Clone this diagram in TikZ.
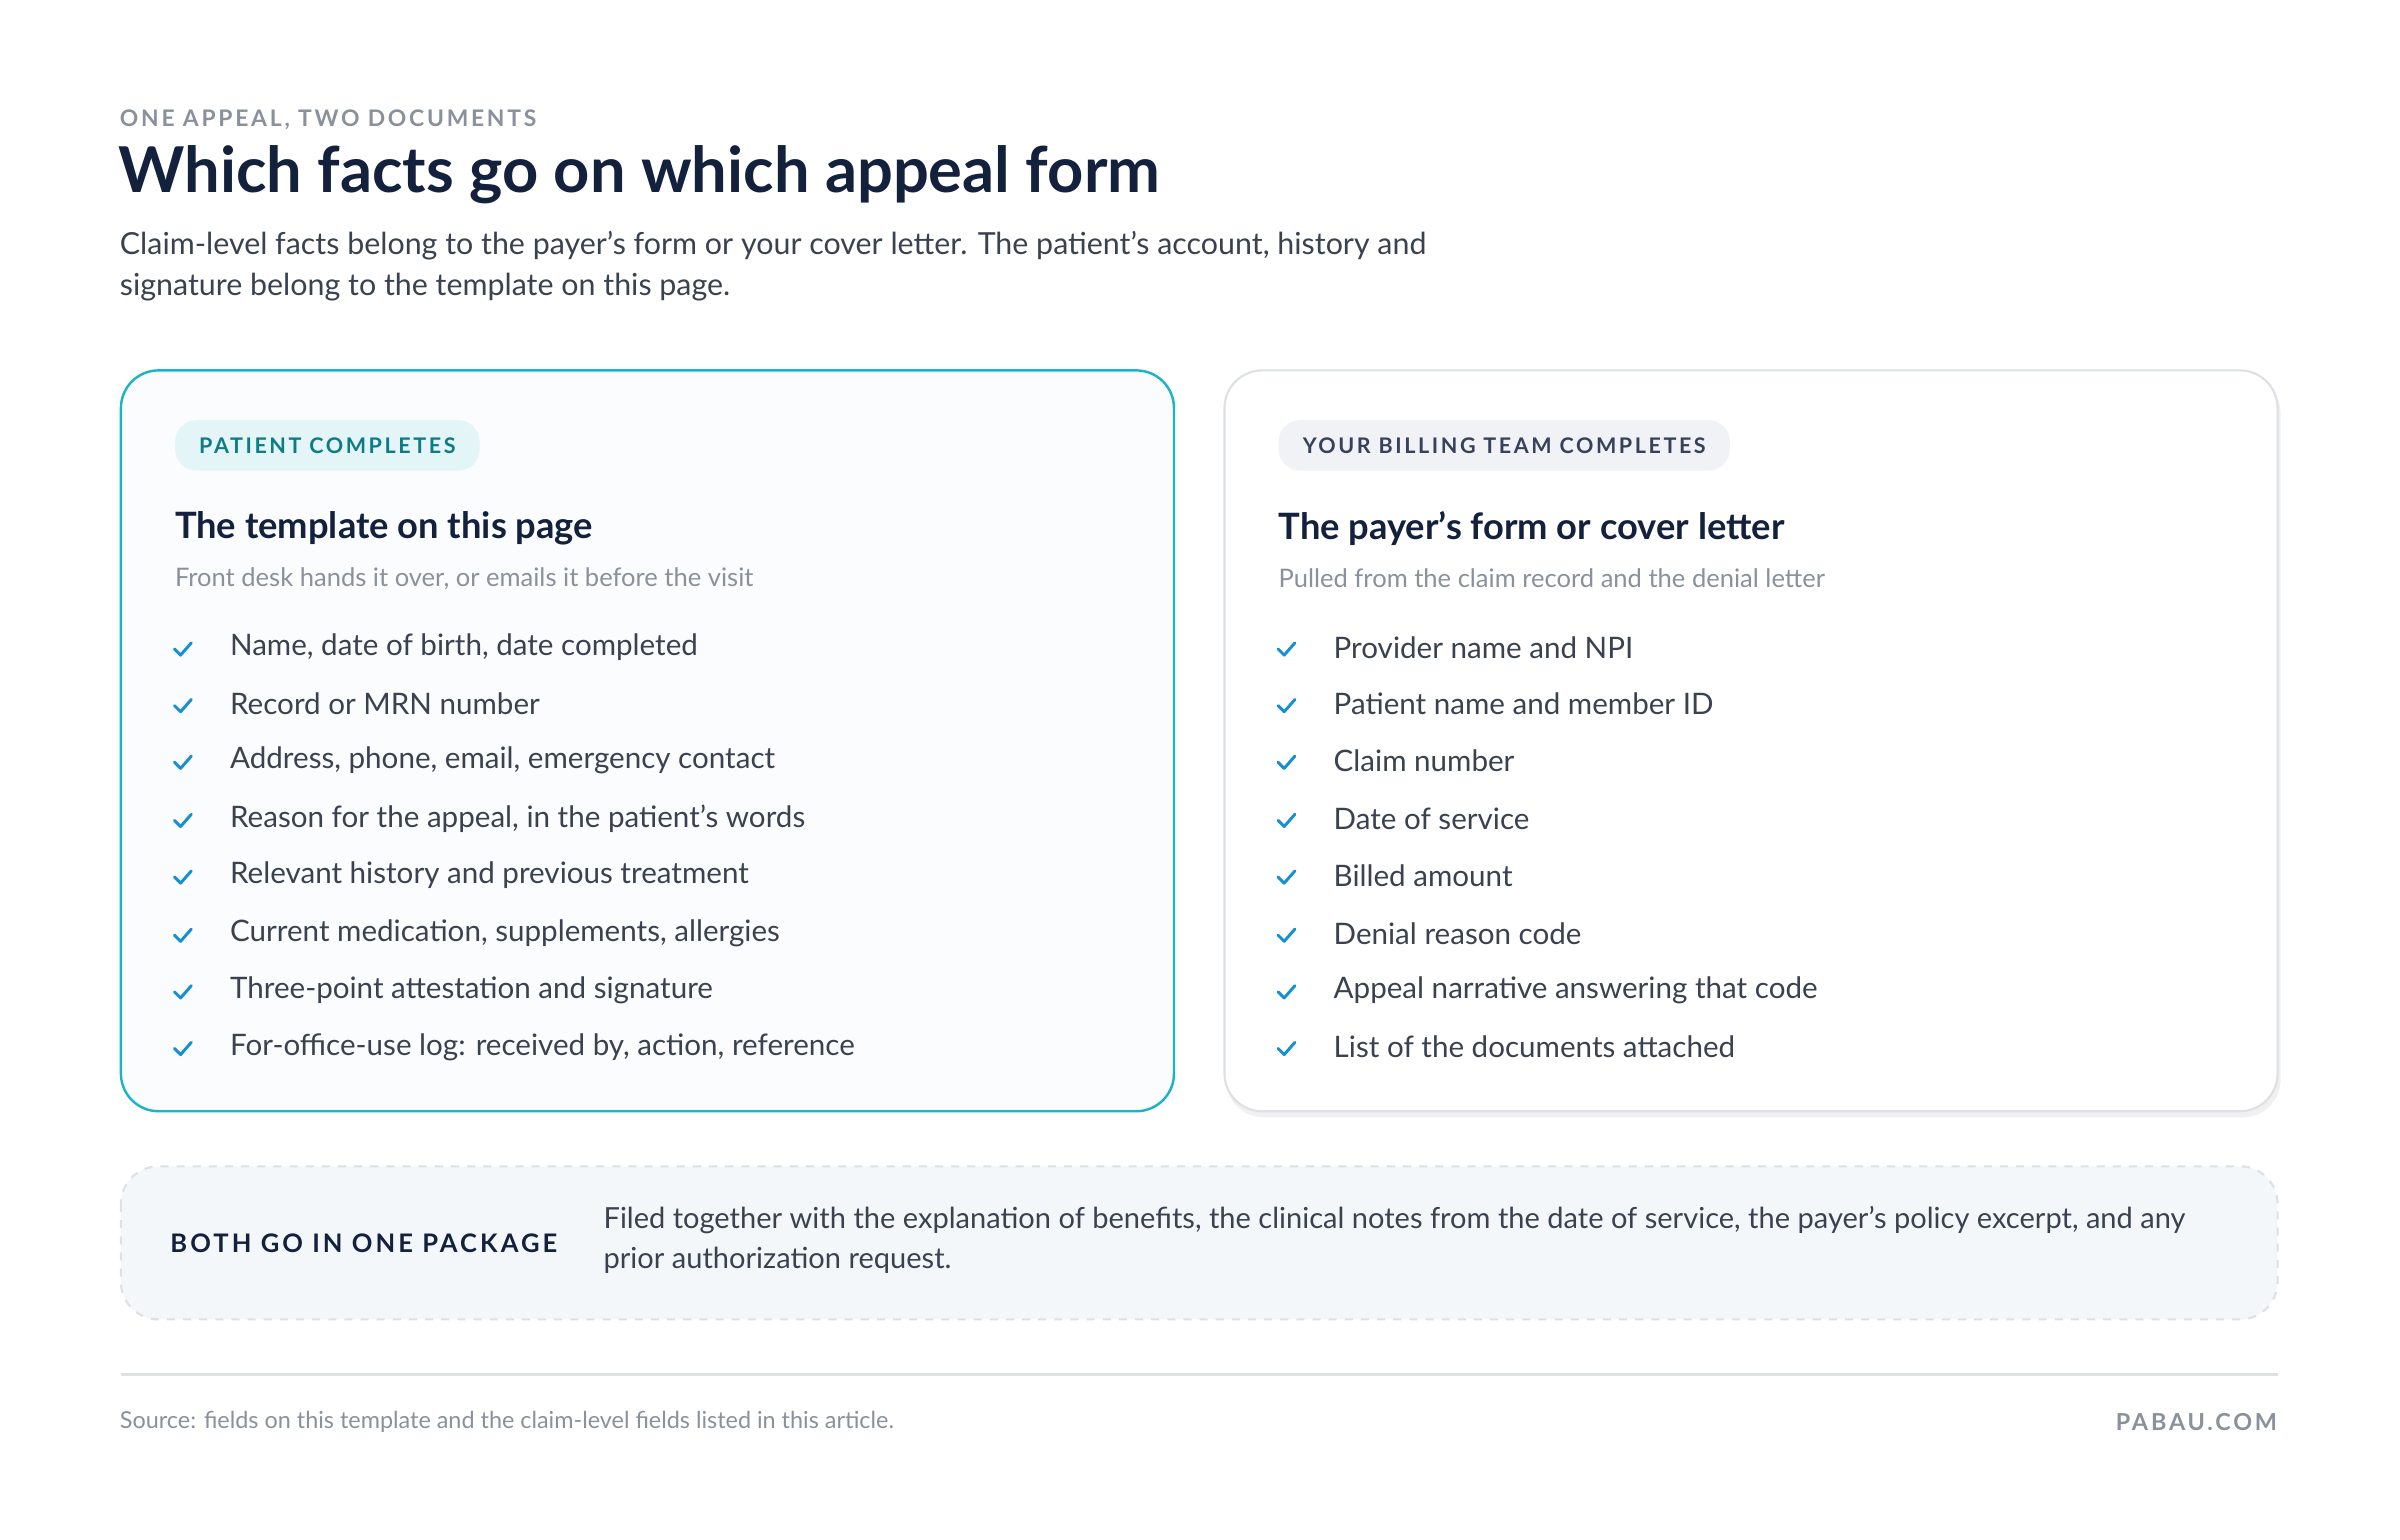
\documentclass[tikz,border=0pt]{standalone}
\usepackage{fontspec}
\setmainfont{Lato}
\newfontfamily\spaced[LetterSpace=12]{Lato}
\definecolor{ink}{HTML}{14213D}
\definecolor{body}{HTML}{3A4250}
\definecolor{muted}{HTML}{8A919C}
\definecolor{teal}{HTML}{1BB3C9}
\definecolor{tealdark}{HTML}{0E7C86}
\definecolor{pillteal}{HTML}{E3F5F7}
\definecolor{pillgray}{HTML}{F0F2F5}
\definecolor{cardbg}{HTML}{FBFCFD}
\definecolor{boxbg}{HTML}{F4F7FA}
\definecolor{rule}{HTML}{DDE1E6}
\begin{document}
\begin{tikzpicture}[x=0.02cm,y=-0.02cm,
  item/.style={anchor=west,font=\fontsize{11}{13}\selectfont,text=body,inner sep=0},
  chk/.style={draw=teal!80!blue,line width=1.1pt,line cap=round,line join=round},
  pill/.style={rounded corners=8pt,inner xsep=9pt,minimum height=33*0.02cm,anchor=west,font=\spaced\bfseries\fontsize{8}{10}\selectfont},
  head/.style={anchor=west,inner sep=0,font=\bfseries\fontsize{13.5}{16}\selectfont,text=ink},
  sub/.style={anchor=west,inner sep=0,font=\fontsize{9.5}{12}\selectfont,text=muted}]
\useasboundingbox (0,0) rectangle (1568,1006);
\fill[white] (0,0) rectangle (1568,1006);
\node[anchor=west,inner sep=0,text=muted,font=\spaced\bfseries\fontsize{8.5}{10}\selectfont] (kick) at (78,78) {ONE APPEAL, TWO DOCUMENTS};
\node[anchor=west,inner sep=0,text=ink,font=\bfseries\fontsize{23.5}{28}\selectfont] (title) at (77,114) {Which facts go on which appeal form};
\node[anchor=north west,inner sep=0,text=body,align=left,font=\fontsize{11.3}{15.2}\selectfont] (desc) at (78,151) {Claim-level facts belong to the payer's form or your cover letter. The patient's account, history and\\signature belong to the template on this page.};
% cards
\fill[black!6,rounded corners=14pt] (801,246) rectangle (1490,730);
\draw[teal,fill=cardbg,line width=0.9pt,rounded corners=14pt] (79,242) rectangle (767,726);
\draw[rule,fill=white,line width=0.8pt,rounded corners=14pt] (800,242) rectangle (1488,726);
\node[pill,fill=pillteal,text=tealdark] (p1) at (114,291) {PATIENT COMPLETES};
\node[pill,fill=pillgray,text=ink!85] (p2) at (835,291) {YOUR BILLING TEAM COMPLETES};
\node[head] (h1) at (114,345) {The template on this page};
\node[head] (h2) at (835,345) {The payer's form or cover letter};
\node[sub] (s1) at (114,378) {Front desk hands it over, or emails it before the visit};
\node[sub] (s2) at (835,378) {Pulled from the claim record and the denial letter};
\foreach \y/\t [count=\i] in {423/{Name, date of birth, date completed},460/{Record or MRN number},497/{Address, phone, email, emergency contact},535/{Reason for the appeal, in the patient's words},572/{Relevant history and previous treatment},610/{Current medication, supplements, allergies},647/{Three-point attestation and signature},684/{For-office-use log: received by, action, reference}}{
  \draw[chk] (114,\y+1) -- (118,\y+5) -- (125,\y-3);
  \node[item] (a\i) at (150,\y) {\t};}
\foreach \y/\t [count=\i] in {423/{Provider name and NPI},460/{Patient name and member ID},497/{Claim number},535/{Date of service},572/{Billed amount},610/{Denial reason code},647/{Appeal narrative answering that code},684/{List of the documents attached}}{
  \draw[chk] (835,\y+1) -- (839,\y+5) -- (846,\y-3);
  \node[item] (b\i) at (871,\y) {\t};}
% bottom box
\draw[rule,fill=boxbg,dashed,line width=0.8pt,rounded corners=14pt] (79,762) rectangle (1488,862);
\node[anchor=west,inner sep=0,text=ink,font=\spaced\bfseries\fontsize{9.5}{12}\selectfont] (both) at (111,812) {BOTH GO IN ONE PACKAGE};
\node[anchor=north west,inner sep=0,text=body,align=left,font=\fontsize{10.8}{14.8}\selectfont] (filed) at (394,788) {Filed together with the explanation of benefits, the clinical notes from the date of service, the payer's policy excerpt, and any\\prior authorization request.};
\draw[rule,line width=0.8pt] (79,898) -- (1488,898);
\node[anchor=west,inner sep=0,text=muted,font=\fontsize{8.7}{10}\selectfont] (src) at (78,929) {Source: fields on this template and the claim-level fields listed in this article.};
\node[anchor=east,inner sep=0,text=muted,font=\spaced\bfseries\fontsize{8.7}{10}\selectfont] (brand) at (1488,929) {PABAU.COM};
\end{tikzpicture}
\end{document}
